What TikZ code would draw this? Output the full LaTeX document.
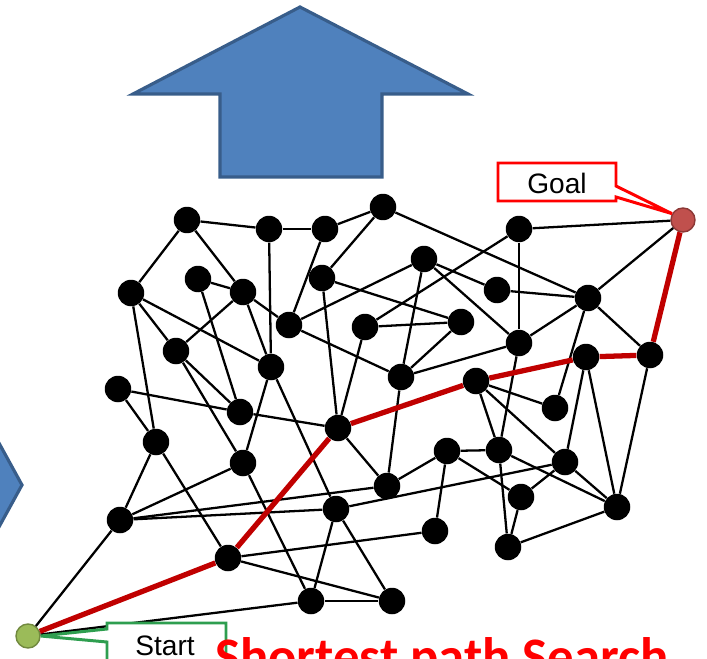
\documentclass[tikz,border=0pt]{standalone}
\usepackage{fontspec}
\setmainfont{Liberation Sans}
\newfontfamily\headfont{Carlito}
\usepackage{xcolor}
\definecolor{arrowblue}{HTML}{4F81BD}
\definecolor{arrowline}{HTML}{385D8A}
\definecolor{pathred}{HTML}{C00000}
\definecolor{goalfill}{HTML}{C0504D}
\definecolor{goalline}{HTML}{8C3836}
\definecolor{startfill}{HTML}{9BBB59}
\definecolor{startline}{HTML}{71893F}
\definecolor{startbox}{HTML}{2E9E4F}
\usetikzlibrary{arrows.meta}
\tikzset{
  graphnode/.style={circle,fill=black,minimum size=5.3mm,inner sep=0pt},
  endnode/.style={circle,minimum size=4.8mm,inner sep=0pt,line width=0.8pt},
  graphedge/.style={line width=1.3pt,black},
  pathedge/.style={line width=3pt,pathred},
  blockarrow/.style={fill=arrowblue,draw=arrowline,line width=1.8pt,line join=miter},
  calloutbox/.style={fill=white,line width=1.7pt,line join=miter},
  calloutlabel/.style={font=\fontsize{16}{18}\selectfont}
}

\begin{document}
\begin{tikzpicture}[x=0.02cm,y=-0.02cm]
\useasboundingbox (0,0) rectangle (707,659);
\clip (0,0) rectangle (707,659);
% block arrows
\draw[blockarrow] (300,7) -- (468,94) -- (382,94) -- (382,177) -- (220,177) -- (220,94) -- (133,94) -- cycle;
\draw[blockarrow] (-40,372) -- (22,485) -- (-40,598) -- cycle;
% graph nodes
\node[graphnode] (n1) at (187,220) {};  \node[graphnode] (n2) at (269,229) {};
\node[graphnode] (n3) at (325,229) {};  \node[graphnode] (n4) at (383,207) {};
\node[graphnode] (n5) at (519,229) {};  \node[graphnode] (n7) at (131,293) {};
\node[graphnode] (n8) at (198,279) {};  \node[graphnode] (n9) at (243,292) {};
\node[graphnode] (n10) at (322,278) {}; \node[graphnode] (n11) at (424,259) {};
\node[graphnode] (n12) at (497,290) {}; \node[graphnode] (n13) at (588,298) {};
\node[graphnode] (n14) at (289,325) {}; \node[graphnode] (n15) at (365,327) {};
\node[graphnode] (n16) at (461,322) {}; \node[graphnode] (n17) at (519,343) {};
\node[graphnode] (n18) at (176,351) {}; \node[graphnode] (n19) at (271,367) {};
\node[graphnode] (n20) at (401,377) {}; \node[graphnode] (n21) at (476,381) {};
\node[graphnode] (n22) at (586,357) {}; \node[graphnode] (n23) at (650,355) {};
\node[graphnode] (n24) at (118,389) {}; \node[graphnode] (n25) at (240,412) {};
\node[graphnode] (n26) at (338,428) {}; \node[graphnode] (n27) at (555,408) {};
\node[graphnode] (n28) at (156,442) {}; \node[graphnode] (n29) at (243,463) {};
\node[graphnode] (n30) at (447,451) {}; \node[graphnode] (n31) at (499,450) {};
\node[graphnode] (n32) at (565,462) {}; \node[graphnode] (n33) at (387,486) {};
\node[graphnode] (n34) at (521,497) {}; \node[graphnode] (n35) at (617,507) {};
\node[graphnode] (n36) at (120,520) {}; \node[graphnode] (n37) at (336,509) {};
\node[graphnode] (n38) at (435,531) {}; \node[graphnode] (n39) at (508,547) {};
\node[graphnode] (n40) at (228,558) {}; \node[graphnode] (n41) at (311,601) {};
\node[graphnode] (n42) at (392,601) {};
\node[endnode,fill=goalfill,draw=goalline] (goal) at (683,220) {};
\node[endnode,fill=startfill,draw=startline] (start) at (28,636) {};
% edges
\foreach \a/\b in {n1/n2,n1/n7,n1/n9,n2/n3,n2/n19,n3/n4,n3/n14,n4/n10,n4/n13,
  n5/goal,n5/n15,n5/n17,n7/n18,n7/n19,n7/n28,n8/n9,n8/n25,n9/n14,n9/n18,n9/n19,
  n10/n16,n10/n26,n11/n12,n11/n14,n11/n17,n11/n20,n12/n13,n13/goal,n13/n17,
  n13/n23,n13/n27,n14/n20,n15/n16,n15/n26,n16/n20,n17/n20,n17/n31,n18/n25,
  n18/n29,n19/n29,n19/n37,n20/n33,n21/n27,n21/n31,n21/n32,n22/n32,n22/n35,
  n23/n35,n24/n25,n24/n28,n25/n26,n26/n33,n28/n36,n28/n40,n29/n36,n29/n41,
  n30/n31,n30/n33,n30/n34,n30/n38,n31/n35,n31/n39,n32/n34,n32/n35,n32/n37,
  n33/n36,n34/n39,n35/n39,n36/n37,n36/start,n37/n41,n37/n42,n38/n40,n40/n42,
  n41/n42,n41/start}
  \draw[graphedge] (\a) -- (\b);
% shortest path
\draw[pathedge] (start) -- (n40) -- (n26) -- (n21) -- (n22) -- (n23) -- (goal);
% callouts
\draw[calloutbox,draw=red] (498,163) -- (616,163) -- (616,186) -- (goal.150) -- (616,197) -- (616,201) -- (498,201) -- cycle;
\node[calloutlabel] (goaltext) at (557,183) {Goal};
\draw[calloutbox,draw=startbox] (226,700) -- (226,623) -- (107,623) -- (107,629) -- (start.east) -- (107,642) -- (107,700);
\node[calloutlabel,anchor=base] (starttext) at (165,655) {Start};
% title
\node[anchor=base west,inner sep=0pt,text=red,font=\headfont\bfseries\fontsize{30}{34}\selectfont] (title) at (215,674) {Shortest path Search};
\end{tikzpicture}
\end{document}
